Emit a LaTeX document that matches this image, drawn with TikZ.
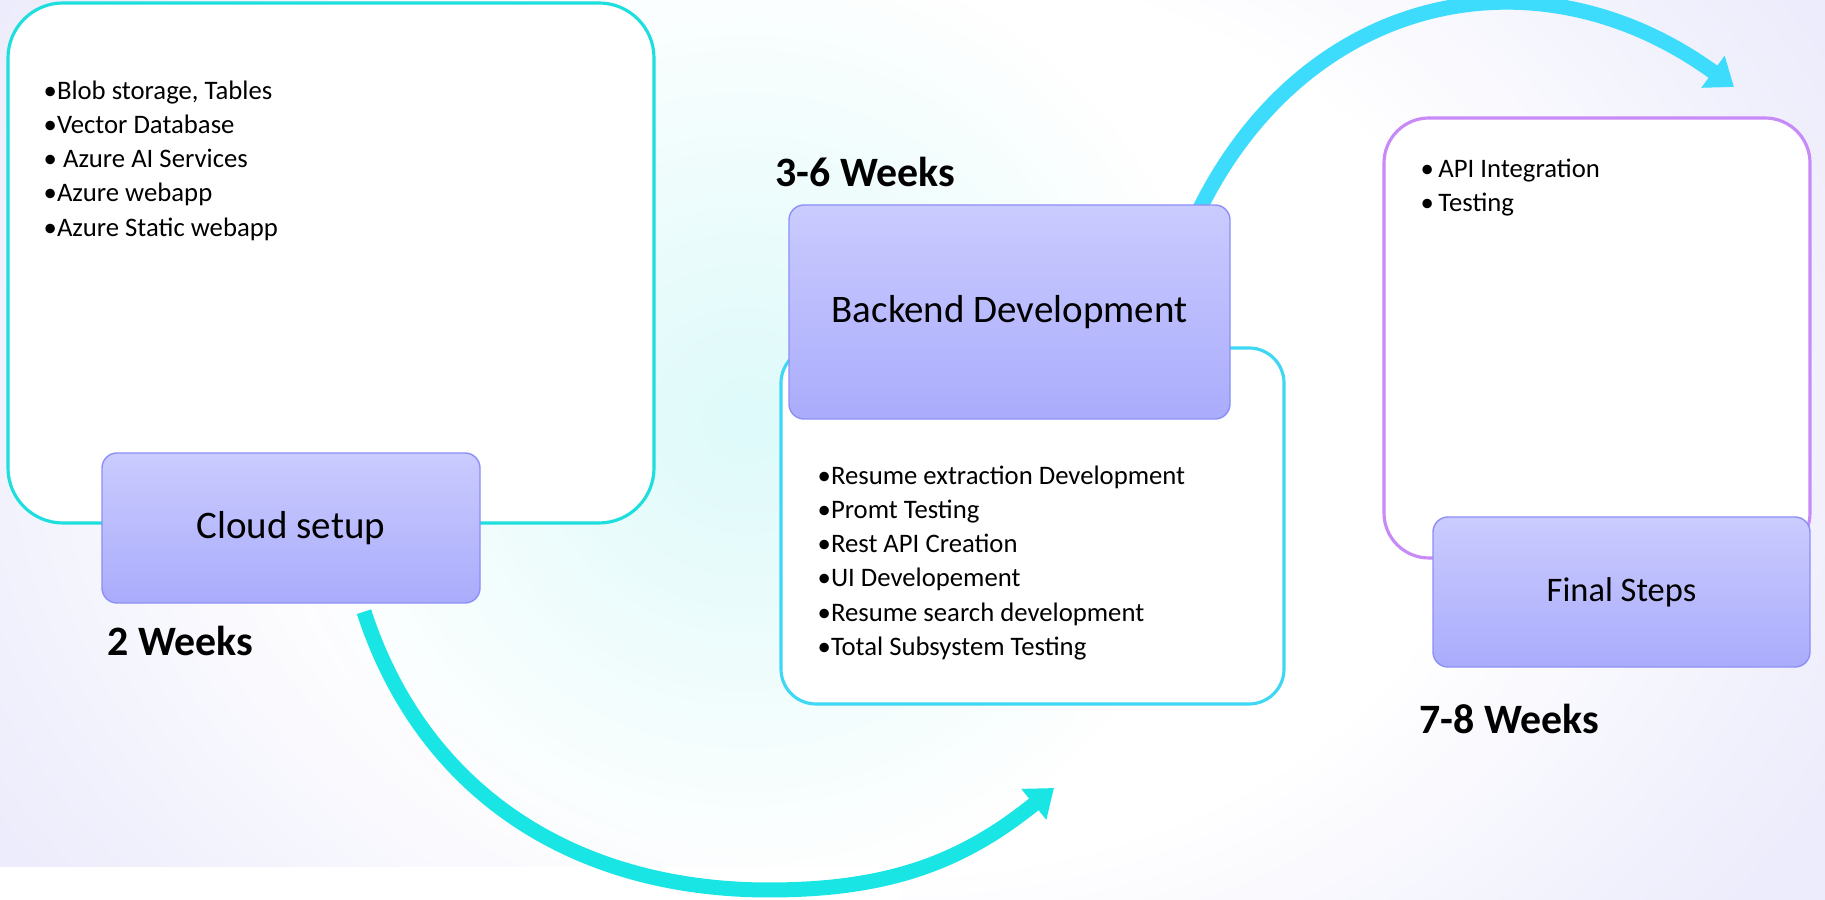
\documentclass[tikz,border=0pt]{standalone}
\usepackage{fontspec}
\setmainfont{Carlito}
\usetikzlibrary{arrows.meta,positioning,calc,fadings}

\definecolor{lavbg}{RGB}{236,236,252}
\definecolor{glowcyan}{RGB}{222,250,250}
\definecolor{stagetop}{RGB}{202,203,254}
\definecolor{stagebot}{RGB}{170,172,252}
\definecolor{stageline}{RGB}{140,143,245}
\definecolor{cloudline}{RGB}{30,222,222}
\definecolor{backline}{RGB}{62,216,245}
\definecolor{finalline}{RGB}{200,138,247}
\definecolor{arrowlow}{RGB}{26,229,229}
\definecolor{arrowhigh}{RGB}{61,220,253}

\tikzfading[name=glowfade, inner color=transparent!0, outer color=transparent!100]
\pgfdeclareradialshading{bgshade}{\pgfpoint{0bp}{0bp}}{color(0bp)=(white); color(14bp)=(white); color(25bp)=(lavbg); color(50bp)=(lavbg)}

\pgfdeclarelayer{back}
\pgfdeclarelayer{mid}
\pgfsetlayers{back,mid,main}

\tikzset{
    stagebox/.style={draw=stageline, line width=0.4pt, rounded corners=1.5mm,
        top color=stagetop, bottom color=stagebot, align=center, inner sep=0pt,
        font=\fontsize{11.1}{13}\selectfont},
    listbox/.style={fill=white, line width=0.9pt},
    itemlist/.style={anchor=north west, align=left, inner sep=0pt,
        font=\fontsize{7.6}{9.73}\selectfont},
    weeklbl/.style={anchor=west, inner sep=0pt, font=\fontsize{11.9}{14}\selectfont\bfseries},
    flowarrow/.style={line width=1.5mm, -{Triangle[length=2.6mm, width=3.8mm]}}
}

\begin{document}
\begin{tikzpicture}[x=0.1mm, y=0.1mm]
    \useasboundingbox (0,0) rectangle (1825,900);

    % background
    \begin{pgfonlayer}{back}
        \begin{scope}
            \clip (0,0) rectangle (1825,900);
            \fill[lavbg] (0,0) rectangle (1825,900);
            \shade[shading=bgshade] (900,480) ellipse (1050 and 800);
            \fill[glowcyan, path fading=glowfade] (745,480) circle (470);
            \fill[white] (0,0) rectangle (900,33);
        \end{scope}
    \end{pgfonlayer}

    % outline boxes
    \draw[listbox, draw=cloudline, rounded corners=5.5mm] (8,377) rectangle (654,897);
    \draw[listbox, draw=backline, rounded corners=3.5mm] (781,196) rectangle (1284,552);
    \draw[listbox, draw=finalline, rounded corners=4.5mm] (1384,342) rectangle (1810,782);

    % stage nodes
    \node[stagebox, minimum width=37.8mm, minimum height=15mm] (cloud) at (291,372) {Cloud setup};
    \node[stagebox, minimum width=44.1mm, minimum height=21.4mm] (backend) at (1009.5,588) {Backend Development};
    \node[stagebox, minimum width=37.7mm, minimum height=15mm, font=\fontsize{9.8}{12}\selectfont] (final) at (1621.5,308) {Final Steps};

    % item lists
    \node[itemlist] (cloudlist) at (43,820) {•Blob storage, Tables\\•Vector Database\\• Azure AI Services\\•Azure webapp\\•Azure Static webapp};
    \node[itemlist] (backlist) at (817,435) {•Resume extraction Development\\•Promt Testing\\•Rest API Creation\\•UI Developement\\•Resume search development\\•Total Subsystem Testing};
    \node[itemlist] (finallist) at (1420,742) {•\,API Integration\\•\,Testing};

    % durations
    \node[weeklbl] (wk1) at (107,259) {2 Weeks};
    \node[weeklbl] (wk2) at (775,728) {3-6 Weeks};
    \node[weeklbl] (wk3) at (1419,181) {7-8 Weeks};

    % arrows
    \begin{pgfonlayer}{mid}
        \begin{scope}
            \clip (0,0) rectangle (1825,900);
            \coordinate (lowstart) at ($(cloud.south)+(73,-8)$);
            \coordinate (lowdip) at (769,10);
            \coordinate (lowend) at (1054,112);
            \draw[flowarrow, arrowlow] (lowstart) to[out=-72,in=180] (lowdip) to[out=0,in=219] (lowend);
            \coordinate (highstart) at ($(backend.north east)+(-36,-15)$);
            \coordinate (highend) at (1734,813);
            \draw[flowarrow, arrowhigh] (highstart) to[out=65,in=144,looseness=1.14] (highend);
        \end{scope}
    \end{pgfonlayer}
\end{tikzpicture}
\end{document}
